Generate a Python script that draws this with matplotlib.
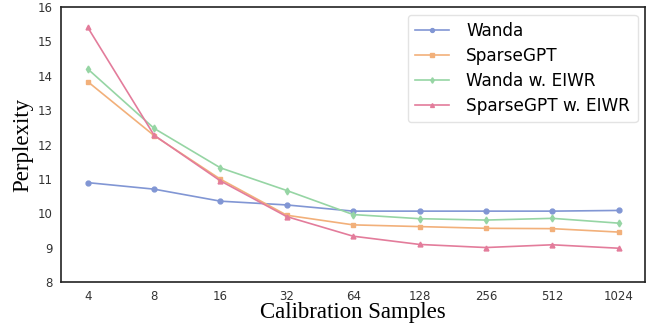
import numpy as np
import matplotlib
matplotlib.use('Agg')
import matplotlib.pyplot as plt

samples = ['4', '8', '16', '32', '64', '128', '256', '512', '1024']

wanda = [10.89, 10.70, 10.35, 10.24, 10.06, 10.06, 10.06, 10.06, 10.08]
sparsegpt = [13.83, 12.26, 10.99, 9.94, 9.66, 9.61, 9.56, 9.55, 9.45]
wanda_eiwr = [14.20, 12.47, 11.32, 10.66, 9.96, 9.84, 9.80, 9.85, 9.71]
sparsegpt_eiwr = [15.41, 12.27, 10.94, 9.90, 9.33, 9.09, 9.00, 9.08, 8.98]

colors = ['#8196d4', '#f2b07a', '#96d5a4', '#e37c9b']

fig = plt.figure(figsize=(6.51, 3.24), dpi=100)
ax = fig.add_axes([0.094, 0.13, 0.897, 0.848])

x = np.arange(len(samples))
ax.plot(x, wanda, '-o', color=colors[0], markersize=3.5, lw=1.2, label='Wanda')
ax.plot(x, sparsegpt, '-s', color=colors[1], markersize=3.5, lw=1.2, label='SparseGPT')
ax.plot(x, wanda_eiwr, '-d', color=colors[2], markersize=3.5, lw=1.2, label='Wanda w. EIWR')
ax.plot(x, sparsegpt_eiwr, '-^', color=colors[3], markersize=3.5, lw=1.2, label='SparseGPT w. EIWR')

ax.set_xticks(x)
ax.set_xticklabels(samples)
ax.set_xlim(-0.4, 8.4)
ax.set_ylim(8, 16)
ax.set_yticks(range(8, 17))
ax.tick_params(length=0, labelsize=8.5, colors='#333333', pad=6)
for s in ax.spines.values():
    s.set_color('#222222')
    s.set_linewidth(1.2)

ax.set_xlabel('Calibration Samples', family='Liberation Serif', fontsize=16.5, labelpad=-1)
ax.set_ylabel('Perplexity', family='Liberation Serif', fontsize=16.5, labelpad=3)

leg = ax.legend(loc='upper right', fontsize=12.2, frameon=True, borderpad=0.45,
                handlelength=2.0, labelspacing=0.4, handletextpad=1.0,
                borderaxespad=0.45, markerscale=0.8)
leg.get_frame().set_edgecolor('#dddddd')

fig.savefig('out.png', dpi=100)
